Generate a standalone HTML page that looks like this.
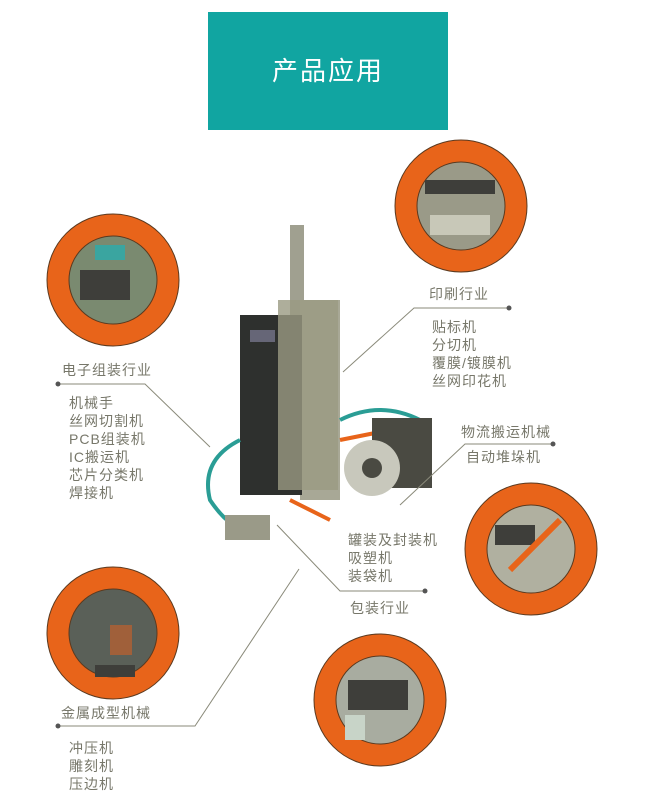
<!DOCTYPE html>
<html><head><meta charset="utf-8"><style>
body{margin:0;width:650px;height:800px;background:#fff;position:relative;overflow:hidden;font-family:"Liberation Sans","Noto Sans CJK SC",sans-serif;color:#77776a}
.t{position:absolute;font-size:14px;line-height:18px;letter-spacing:1px;white-space:nowrap}
.hd{position:absolute;left:208px;top:12px;width:240px;height:118px;background:#11a5a1;color:#fff;font-size:26px;text-align:center;line-height:118px;letter-spacing:2px}
</style></head><body>
<div class="hd">产品应用</div>
<svg width="650" height="800" style="position:absolute;left:0;top:0">
<g stroke="#5a3a20" stroke-width="1">
<circle cx="461" cy="206" r="66" fill="#e8641a"/><circle cx="461" cy="206" r="44" fill="#9a9a88"/>
<circle cx="113" cy="280" r="66" fill="#e8641a"/><circle cx="113" cy="280" r="44" fill="#7a8a70"/>
<circle cx="531" cy="549" r="66" fill="#e8641a"/><circle cx="531" cy="549" r="44" fill="#b0b0a0"/>
<circle cx="113" cy="633" r="66" fill="#e8641a"/><circle cx="113" cy="633" r="44" fill="#5a6058"/>
<circle cx="380" cy="700" r="66" fill="#e8641a"/><circle cx="380" cy="700" r="44" fill="#a8aca0"/>
</g>
<rect x="425" y="180" width="70" height="14" fill="#3e3e3a"/><rect x="430" y="215" width="60" height="20" fill="#c8c8b8"/>
<rect x="80" y="270" width="50" height="30" fill="#3e3e3a"/><rect x="95" y="245" width="30" height="15" fill="#3aa5a0"/>
<rect x="495" y="525" width="40" height="20" fill="#3e3e3a"/><path d="M510 570 L560 520" stroke="#e8641a" stroke-width="6"/>
<rect x="110" y="625" width="22" height="30" fill="#a0603a"/><rect x="95" y="665" width="40" height="12" fill="#3e3e3a"/>
<rect x="348" y="680" width="60" height="30" fill="#3e3e3a"/><rect x="345" y="715" width="20" height="25" fill="#c8d4c8"/>
<!-- device -->
<rect x="290" y="225" width="14" height="90" fill="#a0a090"/>
<rect x="300" y="300" width="40" height="200" fill="#a8a896"/>
<rect x="240" y="315" width="62" height="180" fill="#2e302e"/>
<rect x="250" y="330" width="25" height="12" fill="#667"/>
<rect x="278" y="300" width="60" height="190" fill="#9a9a82" opacity=".8"/>
<path d="M340 420 Q380 400 420 420" stroke="#2a9d95" stroke-width="4" fill="none"/>
<path d="M340 440 L380 432" stroke="#e8641a" stroke-width="4"/>
<rect x="372" y="418" width="60" height="70" fill="#4a4a42"/>
<circle cx="372" cy="468" r="28" fill="#c8c8bc"/><circle cx="372" cy="468" r="10" fill="#4a4a42"/>
<path d="M240 440 Q200 460 210 500 Q230 530 250 530" stroke="#2a9d95" stroke-width="4" fill="none"/>
<rect x="225" y="515" width="45" height="25" fill="#9a9a88"/>
<path d="M290 500 L330 520" stroke="#e8641a" stroke-width="4"/>
<g stroke="#8a8a7a" stroke-width="1" fill="none">
<path d="M58 384 H145 L210 447"/>
<path d="M509 308 H414 L343 372"/>
<path d="M553 444 H465 L400 505"/>
<path d="M277 525 L340 591 H425"/>
<path d="M58 726 H195 L299 569"/>
</g>
<g fill="#555">
<circle cx="58" cy="384" r="2.5"/><circle cx="509" cy="308" r="2.5"/><circle cx="553" cy="444" r="2.5"/><circle cx="425" cy="591" r="2.5"/><circle cx="58" cy="726" r="2.5"/>
</g>
</svg>
<div class="t" style="left:62px;top:361px">电子组装行业</div>
<div class="t" style="left:69px;top:394px">机械手<br>丝网切割机<br>PCB组装机<br>IC搬运机<br>芯片分类机<br>焊接机</div>
<div class="t" style="left:429px;top:285px">印刷行业</div>
<div class="t" style="left:432px;top:318px">贴标机<br>分切机<br>覆膜/镀膜机<br>丝网印花机</div>
<div class="t" style="left:461px;top:423px">物流搬运机械</div>
<div class="t" style="left:466px;top:448px">自动堆垛机</div>
<div class="t" style="left:348px;top:531px">罐装及封装机<br>吸塑机<br>装袋机</div>
<div class="t" style="left:350px;top:599px">包装行业</div>
<div class="t" style="left:61px;top:704px">金属成型机械</div>
<div class="t" style="left:69px;top:739px">冲压机<br>雕刻机<br>压边机</div>
</body></html>
